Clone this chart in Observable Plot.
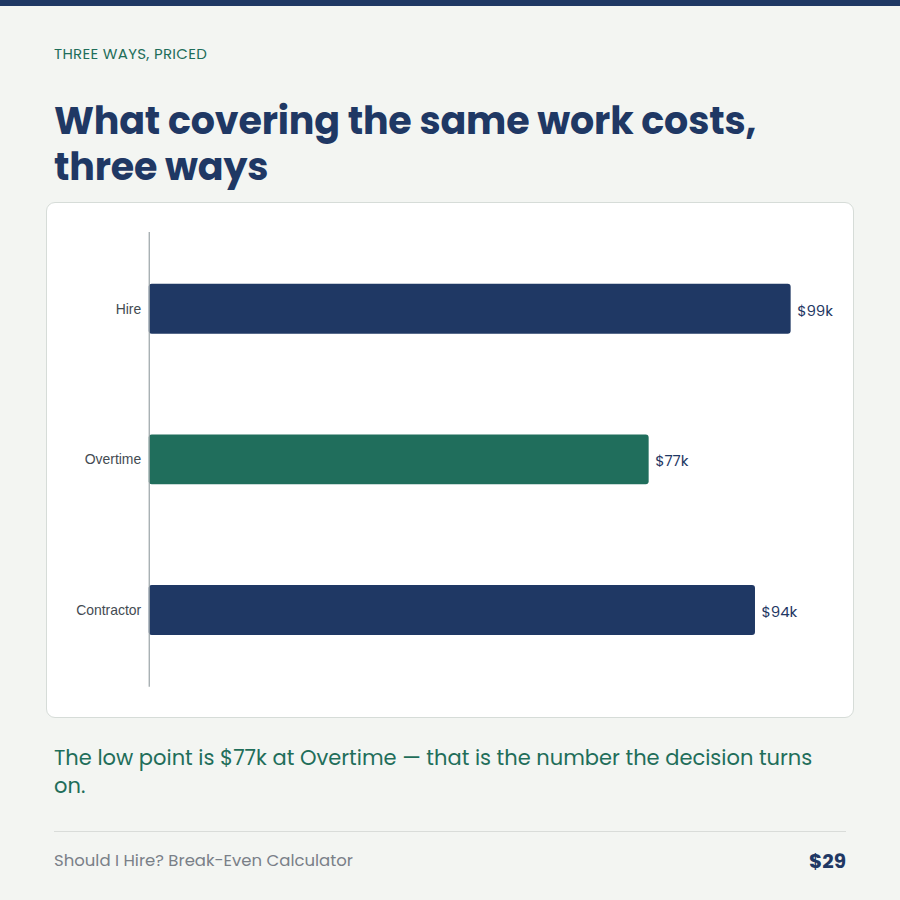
<!DOCTYPE html>
<html>
<head>
<meta charset="utf-8">
<script src="https://cdn.jsdelivr.net/npm/d3@7"></script>
<script src="https://cdn.jsdelivr.net/npm/@observablehq/plot@0.6"></script>
<style>
  html, body { margin: 0; padding: 0; }
  body {
    width: 900px; height: 900px; overflow: hidden;
    background: #f3f5f2;
    font-family: Poppins, Inter, "Noto Sans", sans-serif;
    position: relative;
  }
  .topbar { position: absolute; left: 0; top: 0; width: 900px; height: 6px; background: #1f3864; }
  .eyebrow { position: absolute; left: 54px; top: 44px; font-size: 15px; line-height: 20px; color: #1f6e5a; letter-spacing: 0.3px; }
  h1 { position: absolute; left: 54px; top: 98px; width: 800px; margin: 0; font-size: 38px; line-height: 46px; font-weight: 700; color: #1f3864; letter-spacing: -0.18px; }
  .card { position: absolute; left: 46px; top: 202px; width: 806px; height: 514px; background: #ffffff; border: 1px solid #d6dcd8; border-radius: 9px; overflow: hidden; }
  .card svg { position: absolute; left: -1px; top: -1px; }
  .caption { position: absolute; left: 54px; top: 744px; width: 792px; font-size: 21px; line-height: 28px; color: #1f6e5a; }
  .rule { position: absolute; left: 54px; top: 831px; width: 792px; height: 1px; background: #d9dcd9; }
  .foot { position: absolute; left: 54px; top: 850px; font-size: 16.5px; line-height: 22px; color: #7a8088; }
  .price { position: absolute; right: 54px; top: 848px; font-size: 20px; line-height: 26px; font-weight: 700; color: #1f3864; }
</style>
</head>
<body>
<div class="topbar"></div>
<div class="eyebrow">THREE WAYS, PRICED</div>
<h1>What covering the same work costs, three ways</h1>
<div class="card" id="chart"></div>
<div class="caption">The low point is $77k at Overtime — that is the number the decision turns on.</div>
<div class="rule"></div>
<div class="foot">Should I Hire? Break-Even Calculator</div>
<div class="price">$29</div>
<script>
const categories = ["Hire", "Overtime", "Contractor"];
const costs = [99000, 77100, 93500];

const rows = categories.map((c, i) => ({option: c, cost: costs[i]}));
const minCost = d3.min(costs);
const navy = "#1f3864";
const green = "#206e5c";

const chart = Plot.plot({
  width: 808,
  height: 516,
  marginLeft: 103,
  marginRight: 22.5,
  marginTop: 30,
  marginBottom: 30,
  style: {background: "transparent", fontFamily: "'Liberation Sans', Arial, sans-serif"},
  x: {domain: [0, 105000], axis: null},
  y: {domain: categories, paddingInner: 0.67, paddingOuter: 0.343, label: null},
  marks: [
    Plot.barX(rows, {
      y: "option",
      x: "cost",
      fill: d => d.cost === minCost ? green : navy,
      rx: 3
    }),
    Plot.ruleX([0], {stroke: "#9aa3a6", strokeWidth: 1.2}),
    Plot.axisY({tickSize: 0, tickPadding: 8, fontSize: 14, color: "#444b52", label: null}),
    Plot.text(rows, {
      y: "option",
      x: "cost",
      text: d => "$" + Math.round(d.cost / 1000) + "k",
      dx: 6,
      dy: 1.5,
      textAnchor: "start",
      fill: navy,
      fontSize: 15,
      fontFamily: "Poppins, Inter, sans-serif"
    })
  ]
});
document.getElementById("chart").appendChild(chart);
</script>
</body>
</html>
